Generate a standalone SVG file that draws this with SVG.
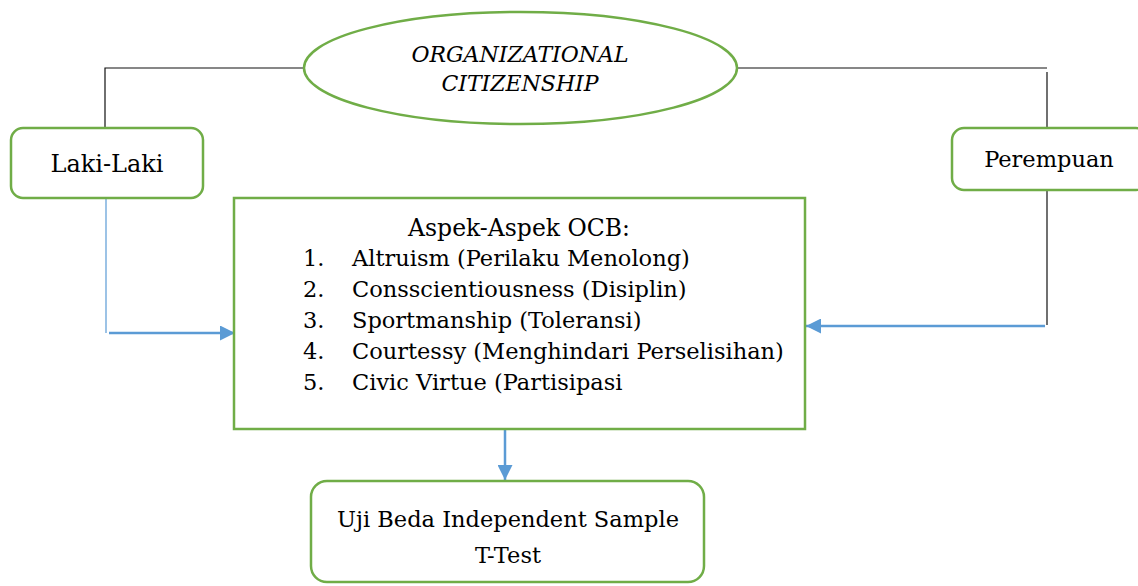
<svg xmlns="http://www.w3.org/2000/svg" width="1138" height="586" viewBox="0 0 1138 586">
  <style>
    .node { fill: #ffffff; stroke: #70AD47; stroke-width: 2.5; }
    .lbl { font-family: 'DejaVu Serif', 'Liberation Serif', serif; font-size: 22.5px; fill: #000000; }
    .mid { text-anchor: middle; }
    .it { font-style: italic; font-size: 22px; }
    .blk { fill: none; stroke: #111111; stroke-width: 1.2; }
    .blu { fill: none; stroke: #5B9BD5; stroke-width: 1.2; }
    .bluA { fill: none; stroke: #5B9BD5; stroke-width: 2.5; }
  </style>
  <defs>
    <marker id="arrow" viewBox="0 0 10 10" refX="10" refY="5" markerWidth="6" markerHeight="6" markerUnits="strokeWidth" orient="auto">
      <path d="M0,0 L10,5 L0,10 z" fill="#5B9BD5"/>
    </marker>
  </defs>

  <rect width="1138" height="586" fill="#ffffff"/>

  <g id="connectors">
    <path class="blk" d="M304,68 H105 V128"/>
    <path class="blk" d="M737,68 H1047"/>
    <path class="blk" d="M1047,72 V128"/>
    <path class="blk" d="M1047,190 V325"/>
    <path class="blu" d="M106,198 V333"/>
    <path class="bluA" d="M109,333 H235" marker-end="url(#arrow)"/>
    <path class="bluA" d="M1045,326 H806" marker-end="url(#arrow)"/>
    <path class="bluA" d="M505,429 V480" marker-end="url(#arrow)"/>
  </g>

  <g id="ocb-root">
    <ellipse class="node" cx="520.5" cy="68" rx="216.5" ry="56"/>
    <text class="lbl mid it" x="520" y="62">ORGANIZATIONAL</text>
    <text class="lbl mid it" x="520" y="91">CITIZENSHIP</text>
  </g>

  <g id="laki-laki">
    <rect class="node" x="11" y="128" width="192" height="70" rx="12"/>
    <text class="lbl mid" x="107" y="172" style="font-size:24px">Laki-Laki</text>
  </g>

  <g id="perempuan">
    <rect class="node" x="952" y="128" width="196" height="62" rx="12"/>
    <text class="lbl mid" x="1049" y="167">Perempuan</text>
  </g>

  <g id="aspek-ocb">
    <rect class="node" x="234" y="198" width="571" height="231"/>
    <text class="lbl mid" x="519" y="236" style="font-size:23.5px">Aspek-Aspek OCB:</text>
    <text class="lbl" x="303" y="266">1.</text>
    <text class="lbl" x="352" y="266">Altruism (Perilaku Menolong)</text>
    <text class="lbl" x="303" y="297">2.</text>
    <text class="lbl" x="352" y="297">Consscientiousness (Disiplin)</text>
    <text class="lbl" x="303" y="328">3.</text>
    <text class="lbl" x="352" y="328">Sportmanship (Toleransi)</text>
    <text class="lbl" x="303" y="359">4.</text>
    <text class="lbl" x="352" y="359">Courtessy (Menghindari Perselisihan)</text>
    <text class="lbl" x="303" y="390">5.</text>
    <text class="lbl" x="352" y="390">Civic Virtue (Partisipasi</text>
  </g>

  <g id="uji-beda">
    <rect class="node" x="311" y="481" width="393" height="101" rx="16"/>
    <text class="lbl mid" x="508" y="527">Uji Beda Independent Sample</text>
    <text class="lbl mid" x="508" y="563">T-Test</text>
  </g>
</svg>
